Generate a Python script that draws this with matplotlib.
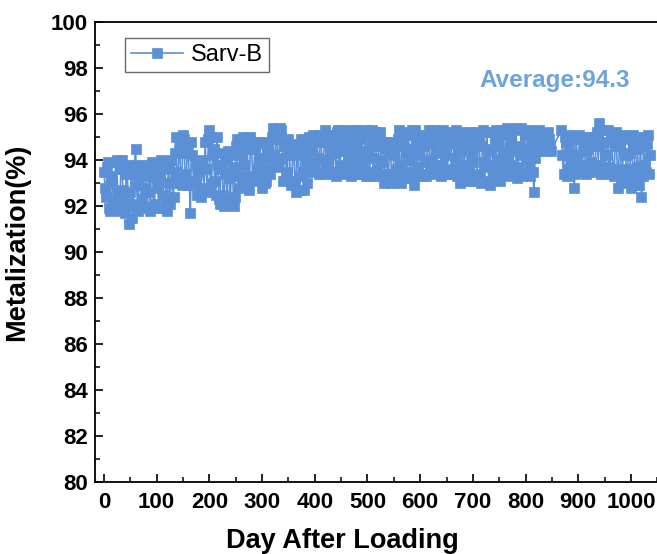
import numpy as np
import matplotlib
matplotlib.use("Agg")
import matplotlib.pyplot as plt
from matplotlib.ticker import MultipleLocator

plt.rcParams['font.family'] = ['Liberation Sans', 'DejaVu Sans']

# ---- data (metalization %, readings, every 2 days) ----
series_name = "Sarv-B"
average_text = "Average:94.3"

# readings on days 0, 4, 8, ... 848
vals_a = [93.5, 92.4, 93.9, 91.8, 93.1, 92.2, 94.0, 91.9, 93.6, 92.7, 91.7, 93.8,
          91.2, 93.4, 92.1, 94.5,
          91.8, 93.7, 92.3, 91.9, 93.5, 92.6, 91.8,
          93.9, 92.1, 93.2, 91.9, 94.0, 92.5, 93.6, 91.8, 93.0, 94.0, 92.4,
          95.0, 93.1, 94.6, 92.9, 94.9,
          93.0, 94.7, 91.7, 94.2, 93.1,
          92.5, 93.9, 92.4, 93.6]
vals_b = [94.8, 92.6, 95.3, 93.0, 94.5, 92.5, 93.8,
          92.1, 94.3, 92.0, 93.4, 94.4, 92.2, 93.7, 92.4,
          94.9, 92.8, 94.2, 95.0, 93.0, 94.5, 92.7, 94.8,
          93.2, 94.7, 93.6, 94.8, 92.8, 94.1, 93.1, 94.6, 93.4,
          95.4, 93.8, 95.2, 94.0, 95.3,
          93.1, 94.8, 93.4, 94.5, 93.0,
          94.7, 92.6, 94.2, 93.3, 94.8, 92.7, 93.9, 94.6,
          93.5, 95.1, 93.9, 94.8, 93.4, 95.0]
vals_c = [93.4, 95.3, 94.0, 93.5, 95.1, 94.3, 93.3, 95.3, 93.8, 94.9, 93.4, 95.2,
          94.1, 93.3, 95.3, 93.9, 94.7, 93.4, 95.2, 93.6, 95.3, 94.2, 93.3,
          95.3, 93.5, 94.9, 93.3, 95.2, 93.9,
          93.0, 94.8, 93.4, 94.3, 93.1, 94.7, 93.6,
          95.3, 93.0, 94.6, 95.2, 93.5, 94.0, 95.3, 92.9, 94.8, 93.7, 95.1, 93.3]
vals_d = [94.6, 93.3, 95.3, 94.0, 93.4, 95.2, 93.8, 94.9, 93.3, 95.3, 94.2, 93.5,
          95.1, 93.4, 94.7, 95.3, 93.6,
          93.0, 95.2, 93.8, 94.6, 93.1, 95.0, 93.9, 95.2, 93.3,
          94.8, 93.0, 95.3, 93.7, 94.4, 92.9, 95.2, 93.5, 95.3, 94.0, 93.1, 95.1, 93.6,
          95.4, 93.3, 94.8, 93.8, 95.3, 93.2, 94.6, 95.4, 93.5, 94.2, 95.2, 93.3, 94.9, 92.6,
          95.2, 94.4, 95.0, 94.6, 95.1, 94.5, 94.9, 94.4]

# readings on days 2, 6, 10, ... 846
vals_a2 = [92.8, 93.7, 91.9, 93.3, 92.0, 93.9, 92.6, 91.8, 94.0, 92.3, 93.4, 92.0,
           92.6, 91.5, 93.8, 92.9,
           93.4, 92.0, 93.8, 92.8, 91.9, 93.3, 93.8,
           92.0, 93.7, 92.8, 93.5, 91.9, 93.9, 92.2, 93.8, 92.1, 93.0, 94.3,
           93.5, 94.3, 93.0, 95.1, 93.4,
           94.3, 92.9, 94.8, 93.0, 93.8,
           93.5, 92.6, 94.0, 92.8]
vals_b2 = [93.6, 94.9, 92.8, 94.2, 93.1, 95.0, 92.3,
           93.6, 92.5, 94.0, 92.3, 93.2, 94.2, 92.0, 94.6,
           93.3, 94.7, 92.9, 93.8, 94.9, 93.3, 95.0, 93.1,
           94.5, 93.2, 94.1, 93.5, 94.8, 93.0, 94.4, 93.6, 95.0,
           94.2, 94.9, 93.7, 95.4, 94.1,
           94.6, 93.5, 94.9, 92.9, 94.2,
           93.1, 94.5, 92.7, 94.9, 93.5, 94.3, 93.0, 95.0,
           94.4, 93.6, 94.9, 94.1, 95.1, 93.5]
vals_c2 = [94.8, 93.6, 95.1, 94.5, 93.4, 94.7, 95.2, 93.5, 94.4, 95.3, 93.7, 94.6,
           95.0, 93.5, 94.3, 95.3, 93.4, 94.9, 93.9, 94.4, 93.3, 95.1, 94.6,
           94.1, 95.2, 93.6, 94.6, 94.0, 93.4,
           94.5, 93.2, 94.8, 93.0, 94.2, 93.4, 94.9,
           93.8, 94.9, 93.4, 94.3, 95.1, 93.2, 94.5, 95.3, 93.6, 94.2, 93.4, 95.0]
vals_d2 = [93.9, 95.1, 93.5, 94.7, 95.3, 93.6, 94.3, 95.2, 93.8, 94.5, 93.4, 94.9,
           95.2, 93.6, 94.1, 93.3, 94.8,
           94.4, 93.2, 94.9, 93.5, 95.2, 94.2, 93.1, 94.6, 95.0,
           93.4, 94.6, 93.9, 95.2, 93.1, 94.5, 93.8, 94.9, 93.3, 94.6, 95.3, 93.4, 94.3,
           93.9, 95.1, 93.5, 94.4, 95.4, 93.7, 94.2, 93.3, 95.1, 94.5, 93.8, 95.3, 93.5, 94.1,
           94.7, 95.3, 94.5, 94.9, 94.4, 95.2, 94.6]

# after the stop around day 850-865: days 868, 872, ... 1036
vals_e = [95.3, 93.4, 94.8, 93.6, 95.1, 94.0,
          92.8, 94.9, 93.5, 95.0, 93.8, 94.4, 93.5, 95.0, 93.9, 94.6, 93.6,
          95.2, 95.6, 93.4, 94.8, 93.6, 95.3, 93.4, 94.9,
          93.3, 95.2, 92.8, 94.6, 93.4, 95.1,
          93.0, 94.9, 92.8, 95.1, 93.4, 94.5, 92.9, 92.4,
          94.6, 93.5, 95.1, 94.2]
# days 870, 874, ... 1034
vals_e2 = [94.2, 95.0, 93.3, 94.5, 93.8, 94.9,
           93.4, 94.2, 95.1, 93.6, 94.7, 93.4, 94.5, 93.8, 95.0, 93.5, 94.8,
           93.8, 94.6, 95.3, 93.5, 94.2, 93.7, 95.1, 93.5,
           94.6, 93.6, 94.9, 93.2, 95.0, 94.2,
           93.6, 94.3, 93.2, 94.7, 92.9, 93.7, 95.0, 93.3,
           93.8, 94.7, 93.4]

days_1 = np.arange(0, 849, 4)
days_1b = np.arange(2, 847, 4)
days_2 = np.arange(868, 1037, 4)
days_2b = np.arange(870, 1035, 4)

days = np.concatenate([days_1, days_1b, days_2, days_2b])
values = np.array(vals_a + vals_b + vals_c + vals_d + vals_a2 + vals_b2 + vals_c2 + vals_d2
                  + vals_e + vals_e2)
order = np.argsort(days, kind='stable')
days = days[order]
values = values[order]

x_ticks = [0, 100, 200, 300, 400, 500, 600, 700, 800, 900, 1000]
y_ticks = [80, 82, 84, 86, 88, 90, 92, 94, 96, 98, 100]

# ---- figure ----
W, H = 657, 554
fig = plt.figure(figsize=(W / 100, H / 100), dpi=100)
xmin, xmax = -17, 1100
px_per_day = 0.527
ax_left_px, ax_bottom_px, ax_top_px = 95, 482, 22
ax_w_px = (xmax - xmin) * px_per_day
ax = fig.add_axes([ax_left_px / W, (H - ax_bottom_px) / H,
                   ax_w_px / W, (ax_bottom_px - ax_top_px) / H])

color = '#5b8fd6'
ax.plot(days, values, '-', color=color, lw=1.2, marker='s', ms=7.0,
        mfc=color, mec=color, mew=0.5, label=series_name)

ax.set_xlim(xmin, xmax)
ax.set_ylim(80, 100)
ax.set_xticks(x_ticks)
ax.set_yticks(y_ticks)
ax.xaxis.set_minor_locator(MultipleLocator(50))
ax.yaxis.set_minor_locator(MultipleLocator(1))
ax.tick_params(axis='both', which='major', direction='in', length=6, width=1.2,
               labelsize=16)
ax.tick_params(axis='both', which='minor', direction='in', length=3.5, width=1.1)
ax.tick_params(axis='x', which='major', pad=7)
ax.tick_params(axis='y', which='major', pad=5)
for lab in ax.get_xticklabels() + ax.get_yticklabels():
    lab.set_fontweight('bold')
for sp in ax.spines.values():
    sp.set_linewidth(1.3)

ax.set_xlabel("Day After Loading", fontsize=19.5, fontweight='bold')
ax.set_ylabel("Metalization(%)", fontsize=19.5, fontweight='bold')
ax.xaxis.set_label_coords((342 - ax_left_px) / ax_w_px, (ax_bottom_px - 528) / 460)
ax.yaxis.set_label_coords((30 - ax_left_px) / ax_w_px, 0.52)

ax.text(855, 97.45, average_text, color='#6fa3dd', fontsize=17.5,
        fontweight='bold', ha='center', va='center')

leg = ax.legend(loc='upper left', bbox_to_anchor=((125 - ax_left_px) / ax_w_px, (482 - 38) / 460),
                fontsize=17, frameon=True, fancybox=False, handlelength=2.2,
                borderpad=0.25, handletextpad=0.35, borderaxespad=0)
leg.get_frame().set_edgecolor('#444444')
leg.get_frame().set_linewidth(1.0)

fig.savefig("out.png", dpi=100)
